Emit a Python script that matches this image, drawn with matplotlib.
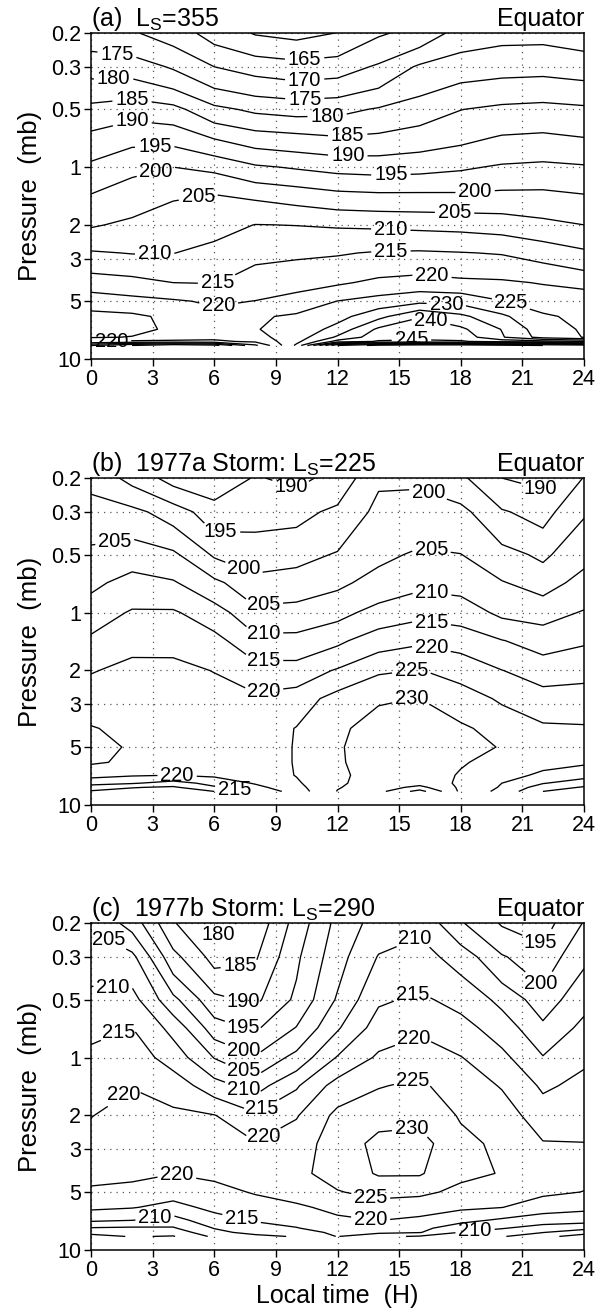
import numpy as np
import matplotlib
matplotlib.use("Agg")
import matplotlib.pyplot as plt
from matplotlib.ticker import FixedLocator, FixedFormatter, NullLocator

plt.rcParams['font.family'] = ['Liberation Sans', 'DejaVu Sans']
plt.rcParams['mathtext.fontset'] = 'custom'
plt.rcParams['mathtext.rm'] = 'Liberation Sans'
plt.rcParams['mathtext.it'] = 'Liberation Sans:italic'
plt.rcParams['mathtext.bf'] = 'Liberation Sans:bold'

# ---------------- data ----------------
local_time = [0, 2, 4, 6, 8, 10, 12, 14, 16, 18, 20, 22, 24]
pressure = [0.2, 0.3, 0.5, 0.7, 1.0, 1.4, 2.0, 2.8, 4.0, 5.0, 6.0, 7.0, 7.7, 8.1, 8.5]

# temperature profiles (K), one list per local time, from 0.2 mb down to 8.5 mb
temp_a = [
    [172.1, 178.0, 186.5, 191.2, 196.1, 200.2, 204.5, 210.5, 217.5, 222.6, 226.5, 226.5, 225.5, 219.8, 205.0],
    [170.5, 177.6, 188.0, 193.4, 198.8, 202.4, 206.0, 209.8, 216.6, 221.5, 226.0, 226.3, 224.8, 219.0, 200.0],
    [167.7, 174.4, 186.6, 193.2, 200.0, 204.5, 207.4, 209.9, 215.0, 220.6, 223.8, 224.2, 222.5, 219.0, 195.0],
    [162.9, 170.0, 181.3, 189.6, 198.9, 205.1, 208.3, 211.4, 214.8, 219.3, 221.5, 222.0, 221.5, 219.0, 198.0],
    [159.6, 168.0, 179.0, 187.2, 195.7, 204.1, 210.1, 213.6, 217.5, 220.1, 224.3, 224.8, 223.5, 221.0, 214.0],
    [158.5, 166.9, 178.1, 186.3, 194.5, 202.8, 209.9, 214.2, 218.2, 221.8, 225.8, 226.5, 227.5, 228.5, 231.0],
    [160.1, 167.6, 178.6, 185.3, 193.4, 201.3, 209.5, 214.6, 219.3, 225.1, 228.2, 231.8, 235.8, 242.0, 265.0],
    [164.4, 170.7, 180.5, 185.9, 193.0, 200.8, 209.2, 215.4, 221.1, 226.9, 233.5, 241.0, 243.0, 245.5, 272.0],
    [166.5, 175.8, 182.4, 187.2, 193.4, 200.8, 208.8, 215.6, 221.9, 228.7, 239.8, 242.0, 243.5, 246.0, 274.0],
    [172.0, 177.7, 184.9, 188.7, 194.3, 200.7, 208.5, 215.2, 221.0, 228.4, 236.2, 241.0, 243.0, 245.5, 274.0],
    [173.4, 178.3, 186.1, 190.4, 195.6, 201.1, 207.8, 214.7, 220.7, 225.2, 231.0, 234.8, 235.5, 243.0, 272.0],
    [173.5, 178.5, 186.6, 190.8, 196.1, 201.1, 206.3, 213.0, 219.7, 223.0, 225.6, 227.0, 228.0, 242.0, 270.0],
    [172.3, 177.8, 185.9, 190.0, 195.5, 200.2, 205.0, 210.9, 218.4, 223.2, 224.0, 224.5, 224.8, 240.0, 268.0],
]

temp_b = [
    [198.5, 202.0, 206.1, 208.9, 212.4, 215.9, 219.7, 222.5, 225.3, 226.5, 225.6, 221.6, 216.8, 212.4, 209.5],
    [193.4, 201.4, 207.7, 211.7, 215.5, 218.7, 221.2, 222.5, 223.8, 224.5, 224.2, 220.5, 215.5, 210.3, 208.0],
    [188.0, 197.7, 206.0, 210.5, 215.6, 219.1, 220.8, 222.0, 223.0, 223.3, 222.5, 220.0, 213.1, 209.2, 206.5],
    [186.7, 192.1, 199.3, 206.2, 212.2, 216.6, 219.9, 221.3, 222.5, 223.0, 222.5, 221.0, 216.5, 214.4, 210.0],
    [190.4, 193.1, 197.7, 201.4, 206.4, 211.5, 217.1, 221.0, 222.0, 222.5, 222.5, 222.0, 220.5, 218.5, 215.5],
    [188.8, 193.5, 198.4, 202.2, 206.8, 211.5, 217.1, 222.3, 225.2, 225.3, 225.3, 225.2, 224.3, 223.5, 222.5],
    [191.5, 196.1, 200.4, 204.0, 208.4, 214.0, 220.5, 227.0, 229.3, 229.6, 229.5, 229.3, 229.5, 229.7, 230.2],
    [199.3, 201.3, 203.9, 206.7, 211.8, 217.7, 224.3, 229.6, 231.5, 232.0, 232.0, 231.5, 231.5, 232.5, 233.5],
    [199.2, 202.0, 205.7, 208.8, 213.6, 219.2, 225.2, 230.1, 232.5, 233.0, 233.0, 232.5, 233.0, 236.5, 242.0],
    [196.0, 201.5, 205.1, 208.2, 212.6, 218.0, 223.2, 227.3, 230.8, 231.2, 230.4, 229.6, 229.2, 229.1, 229.0],
    [190.0, 195.5, 201.8, 205.3, 208.9, 215.2, 220.1, 224.3, 228.2, 229.8, 228.5, 226.2, 225.0, 224.5, 223.5],
    [188.8, 193.1, 199.0, 203.0, 208.0, 212.9, 217.7, 222.0, 225.8, 226.2, 226.0, 224.4, 220.3, 217.5, 215.0],
    [195.2, 199.5, 203.6, 206.6, 210.4, 214.4, 218.5, 222.1, 225.5, 226.2, 225.8, 221.9, 217.4, 214.5, 210.5],
]

temp_c = [
    [204.5, 207.6, 211.4, 213.8, 216.1, 218.0, 219.9, 221.2, 221.3, 219.3, 216.0, 210.9, 204.6, 201.4, 198.5],
    [198.0, 206.4, 211.8, 215.1, 217.6, 219.9, 221.2, 222.0, 221.2, 218.4, 215.3, 210.1, 204.2, 202.0, 200.3],
    [185.5, 191.6, 201.4, 208.4, 212.9, 217.8, 221.0, 221.5, 220.1, 216.9, 213.5, 208.0, 204.5, 202.0, 199.7],
    [178.3, 183.2, 191.4, 197.4, 204.8, 212.2, 220.2, 221.5, 221.0, 218.5, 216.2, 213.2, 210.2, 208.5, 206.0],
    [181.5, 184.4, 188.9, 194.2, 200.6, 207.8, 216.1, 220.5, 221.3, 220.4, 217.8, 215.3, 213.7, 211.8, 208.5],
    [192.0, 194.1, 196.0, 200.2, 206.6, 214.4, 219.6, 223.0, 223.8, 222.5, 219.0, 216.5, 214.8, 213.0, 210.5],
    [201.5, 203.1, 205.6, 209.4, 215.4, 222.1, 226.3, 227.0, 227.0, 224.7, 221.6, 218.9, 217.1, 216.0, 215.2],
    [207.2, 210.3, 214.3, 217.3, 220.8, 224.7, 228.2, 231.5, 230.5, 226.5, 222.9, 220.1, 218.2, 216.2, 211.0],
    [209.0, 211.9, 215.8, 219.2, 222.7, 225.9, 228.8, 231.8, 230.5, 226.0, 222.3, 219.0, 216.3, 215.3, 209.5],
    [200.5, 208.0, 213.5, 216.7, 220.2, 222.3, 224.5, 226.5, 226.0, 223.9, 220.9, 216.5, 212.3, 209.8, 207.0],
    [194.5, 200.5, 208.7, 212.7, 216.3, 219.7, 222.2, 223.8, 224.8, 223.8, 220.1, 214.2, 210.3, 208.0, 205.5],
    [192.8, 196.8, 202.2, 206.1, 210.3, 214.2, 217.6, 220.3, 221.3, 220.9, 217.5, 212.2, 208.1, 205.2, 201.0],
    [200.3, 204.0, 208.4, 211.3, 214.2, 216.3, 218.3, 220.1, 221.2, 219.9, 216.3, 211.8, 206.8, 201.3, 198.5],
]

x_ticks = [0, 3, 6, 9, 12, 15, 18, 21, 24]
y_ticks = [0.2, 0.3, 0.5, 1, 2, 3, 5, 10]
y_tick_labels = ['0.2', '0.3', '0.5', '1', '2', '3', '5', '10']

panel_titles = [r'(a)  L$_{\rm S}$=355',
                r'(b)  1977a Storm: L$_{\rm S}$=225',
                r'(c)  1977b Storm: L$_{\rm S}$=290']
right_title = 'Equator'
contour_levels = list(range(155, 280, 5))

# contour label anchors: (level, local time, pressure)
labels_a = [(175, 1.3, 0.24), (180, 1.1, 0.337), (185, 2.0, 0.43), (190, 2.0, 0.535),
            (195, 3.1, 0.754), (200, 3.1, 1.0), (165, 10.4, 0.276), (170, 10.4, 0.351),
            (175, 10.4, 0.43), (180, 11.5, 0.546), (185, 12.5, 0.696), (190, 12.5, 0.87),
            (195, 14.6, 1.10), (200, 18.7, 1.35), (205, 5.2, 1.39), (205, 17.7, 1.69),
            (210, 14.6, 2.06), (210, 3.1, 2.9), (215, 14.6, 2.7), (215, 6.2, 4.1),
            (220, 6.2, 5.18), (220, 16.6, 3.69), (225, 20.4, 5.3), (230, 17.3, 5.1),
            (240, 16.6, 5.95), (245, 15.6, 8.1), (220, 1.0, 8.1)]
labels_b = [(190, 9.8, 0.212), (200, 16.6, 0.21), (190, 21.9, 0.22), (205, 1.1, 0.39),
            (195, 6.3, 0.41), (205, 16.6, 0.44), (200, 7.3, 0.65), (210, 16.6, 0.78),
            (205, 8.4, 0.93), (215, 16.6, 1.07), (210, 8.4, 1.3), (220, 16.6, 1.47),
            (215, 8.4, 1.8), (225, 15.6, 1.97), (220, 8.4, 2.52), (230, 15.6, 2.79),
            (220, 4.2, 6.8), (215, 7.0, 7.9)]
labels_c = [(205, 1.1, 0.22), (180, 6.4, 0.25), (210, 15.6, 0.22), (195, 21.9, 0.25),
            (210, 1.1, 0.37), (185, 7.3, 0.36), (200, 21.9, 0.41), (215, 15.6, 0.455),
            (190, 7.3, 0.55), (215, 1.1, 0.64), (220, 15.6, 0.75), (195, 7.3, 0.766),
            (200, 7.3, 0.99), (225, 15.6, 1.2), (205, 7.3, 1.26), (220, 1.1, 1.31),
            (210, 7.3, 1.56), (215, 8.4, 1.9), (220, 8.4, 2.6), (230, 15.6, 2.3),
            (220, 4.2, 3.95), (225, 13.6, 5.4), (210, 3.1, 6.6), (215, 7.3, 7.1),
            (220, 13.6, 7.1), (210, 18.7, 8.05)]

# ---------------- figure ----------------
W, H = 607, 1310
fig = plt.figure(figsize=(W / 100, H / 100), dpi=100)

left_px, right_px = 91, 584
panel_px = [(33, 359), (478, 805), (923, 1250)]

X, Y = np.meshgrid(np.array(local_time, float), np.array(pressure, float))
datasets = [temp_a, temp_b, temp_c]
label_sets = [labels_a, labels_b, labels_c]

for i, (top, bot) in enumerate(panel_px):
    ax = fig.add_axes([left_px / W, 1 - bot / H, (right_px - left_px) / W, (bot - top) / H])
    Z = np.array(datasets[i], float).T
    ax.set_yscale('log')
    ax.set_xlim(0, 24)
    ax.set_ylim(10, 0.2)

    anchors = {}
    for lev, tx, py in label_sets[i]:
        anchors.setdefault(lev, []).append((tx, py))

    for lev in contour_levels:
        if not (Z.min() < lev < Z.max()):
            continue
        cs = ax.contour(X, Y, Z, levels=[lev], colors='black', linewidths=0.95)
        if lev in anchors:
            try:
                texts = cs.clabel(manual=anchors[lev], fmt='%d', fontsize=14.5,
                                  inline=True, inline_spacing=3)
                for t in texts:
                    t.set_rotation(0)
                    t.set_clip_on(True)
                    t.set_clip_box(ax.bbox)
            except Exception as e:
                print('label failed', lev, e)

    ax.xaxis.set_major_locator(FixedLocator(x_ticks))
    ax.yaxis.set_major_locator(FixedLocator(y_ticks))
    ax.yaxis.set_major_formatter(FixedFormatter(y_tick_labels))
    ax.yaxis.set_minor_locator(NullLocator())
    ax.tick_params(axis='both', direction='out', length=5, width=1.0, labelsize=15.5, pad=2)
    ax.set_axisbelow(True)
    ax.grid(True, linestyle=(0, (1, 4)), color='0.35', linewidth=0.9)
    for sp in ax.spines.values():
        sp.set_linewidth(1.1)
    ax.set_ylabel('Pressure  (mb)', fontsize=18.5)
    ax.yaxis.set_label_coords(-0.10, 0.5)
    ax.set_title(panel_titles[i], loc='left', fontsize=18, pad=5)
    ax.set_title(right_title, loc='right', fontsize=18, pad=5)
    if i == 2:
        ax.set_xlabel('Local time  (H)', fontsize=18, labelpad=2)

fig.savefig('out.png', dpi=100)
